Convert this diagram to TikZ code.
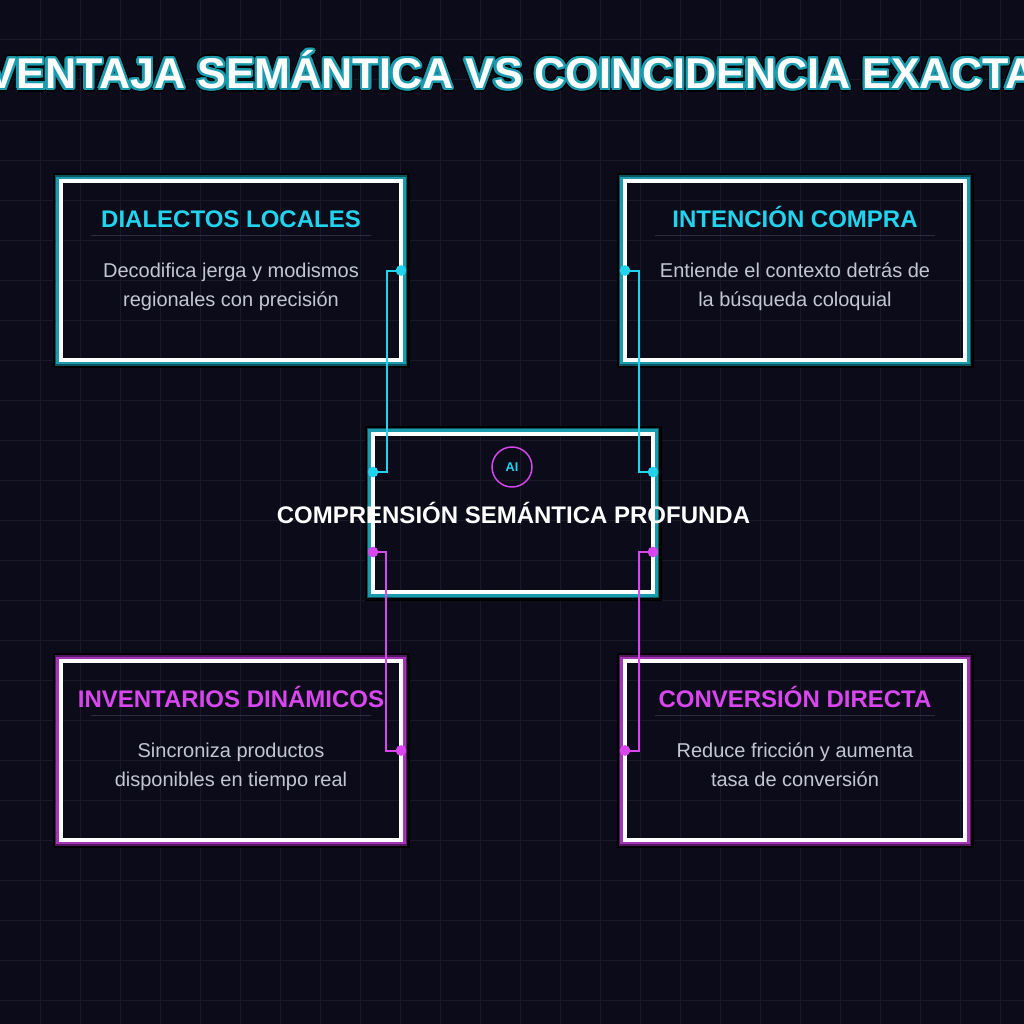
\documentclass[tikz,border=0pt]{standalone}
\usepackage{fontspec}
\setmainfont{Liberation Sans}
\usepackage[copies]{contour}
\usetikzlibrary{calc}
\definecolor{fondo}{HTML}{0B0B1A}
\definecolor{rejilla}{HTML}{191929}
\definecolor{neonCian}{HTML}{22D3EE}
\definecolor{neonMag}{HTML}{D946EF}
\definecolor{tealOsc}{HTML}{0C5560}
\definecolor{tealMed}{HTML}{1A9CAE}
\definecolor{magOsc}{HTML}{55175F}
\definecolor{magMed}{HTML}{A236B6}
\definecolor{cuerpo}{HTML}{C4C7D3}
\definecolor{regla}{HTML}{2C2C40}

% halo round a card: node, dark colour, mid colour
\newcommand{\halo}[3]{%
  \draw[black, line width=3pt] ($(#1.north west)+(-6.5,-6.5)$) rectangle ($(#1.south east)+(6.5,6.5)$);
  \draw[#2, line width=1.8pt] ($(#1.north west)+(-5,-5)$) rectangle ($(#1.south east)+(5,5)$);
  \draw[#3, line width=2.1pt] ($(#1.north west)+(-3.2,-3.2)$) rectangle ($(#1.south east)+(3.2,3.2)$);
}

\begin{document}
\begin{tikzpicture}[x=0.75pt, y=-0.75pt,
  card/.style={draw=white, line width=2.6pt, minimum width=255pt, minimum height=134pt, inner sep=0pt, outer sep=0pt},
  cabecera/.style={anchor=base, font=\bfseries\fontsize{18}{22}\selectfont},
  texto/.style={anchor=base, align=center, text=cuerpo, font=\fontsize{15}{21.4}\selectfont},
  regla/.style={draw=regla, line width=0.75pt},
  enlace/.style={line width=1.5pt},
  punto/.style={radius=4pt}]
  \useasboundingbox (0,0) rectangle (1024,1024);
  \fill[fondo] (0,0) rectangle (1024,1024);
  % ------- grid -------
  \foreach \k in {40,80,...,1000} {
    \draw[rejilla, line width=0.75pt] (\k,0) -- (\k,1024);
    \draw[rejilla, line width=0.75pt] (0,\k) -- (1024,\k);
  }
  % ------- title -------
  \node[anchor=base, font=\bfseries\fontsize{32.3}{38}\selectfont] (titulo) at (512,88.5)
    {\contourlength{2.8pt}\contour{black}{\textcolor{white}{VENTAJA SEMÁNTICA VS COINCIDENCIA EXACTA}}};
  \node[anchor=base, font=\bfseries\fontsize{32.3}{38}\selectfont, text=white] at (512,88.5)
    {\contourlength{1.8pt}\contour{tealMed}{VENTAJA SEMÁNTICA VS COINCIDENCIA EXACTA}};

  % ------- cards -------
  \node[card] (dialectos) at (231,270.5) {};
  \node[card] (intencion) at (795,270.5) {};
  \node[card, minimum width=210pt, minimum height=118.5pt] (nucleo) at (513,513) {};
  \node[card] (inventarios) at (231,750.5) {};
  \node[card] (conversion) at (795,750.5) {};
  \halo{dialectos}{tealOsc}{tealMed}
  \halo{intencion}{tealOsc}{tealMed}
  \halo{nucleo}{tealOsc}{tealMed}
  \halo{inventarios}{magOsc}{magMed}
  \halo{conversion}{magOsc}{magMed}

  % ------- card texts -------
  \node[cabecera, text=neonCian] (dialectosT) at (231,227) {DIALECTOS LOCALES};
  \draw[regla] ($(dialectos.north)+(-140,54)$) -- ++(280,0);
  \node[texto] (dialectosB) at (231,306.5) {Decodifica jerga y modismos\\regionales con precisión};

  \node[cabecera, text=neonCian] (intencionT) at (795,227) {INTENCIÓN COMPRA};
  \draw[regla] ($(intencion.north)+(-140,54)$) -- ++(280,0);
  \node[texto] (intencionB) at (795,306.5) {Entiende el contexto detrás de\\la búsqueda coloquial};

  \node[cabecera, text=neonMag] (inventariosT) at (231,707) {INVENTARIOS DINÁMICOS};
  \draw[regla] ($(inventarios.north)+(-140,54)$) -- ++(280,0);
  \node[texto] (inventariosB) at (231,786.5) {Sincroniza productos\\disponibles en tiempo real};

  \node[cabecera, text=neonMag] (conversionT) at (795,707) {CONVERSIÓN DIRECTA};
  \draw[regla] ($(conversion.north)+(-140,54)$) -- ++(280,0);
  \node[texto] (conversionB) at (795,786.5) {Reduce fricción y aumenta\\tasa de conversión};

  % ------- centre -------
  \node[circle, draw=neonMag, line width=1.1pt, minimum size=30pt, inner sep=0pt,
    text=neonCian, font=\bfseries\fontsize{9.5}{11}\selectfont] (ia) at (512,467) {AI};
  \node[cabecera, text=white] (nucleoT) at (513.5,523) {COMPRENSIÓN SEMÁNTICA PROFUNDA};

  % ------- links -------
  \coordinate (nA) at ($(nucleo.west)+(0,-41)$);
  \coordinate (nB) at ($(nucleo.east)+(0,-41)$);
  \coordinate (nC) at ($(nucleo.west)+(0,39)$);
  \coordinate (nD) at ($(nucleo.east)+(0,39)$);
  \draw[enlace, neonCian] (dialectos.east) -- ++(-14,0) |- (nA);
  \draw[enlace, neonCian] (intencion.west) -- ++(14,0) |- (nB);
  \draw[enlace, neonMag] (nC) -- ++(13,0) |- (inventarios.east);
  \draw[enlace, neonMag] (nD) -- ++(-14,0) |- (conversion.west);
  \fill[neonCian] (dialectos.east) circle[punto] (intencion.west) circle[punto]
    (nA) circle[punto] (nB) circle[punto];
  \fill[neonMag] (inventarios.east) circle[punto] (conversion.west) circle[punto]
    (nC) circle[punto] (nD) circle[punto];
\end{tikzpicture}
\end{document}
